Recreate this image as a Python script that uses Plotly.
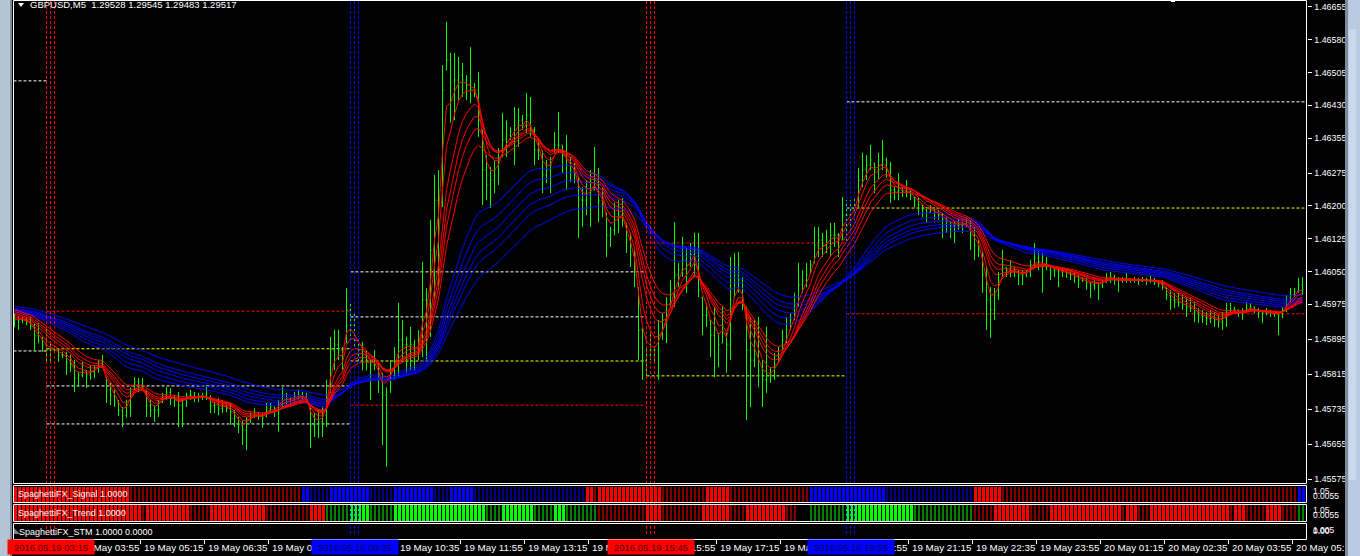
import plotly.graph_objects as go

W, H = 1360, 556

# ---------------- data ----------------
high = [1.45955, 1.45946, 1.45946, 1.45946, 1.45946, 1.45932, 1.45932, 1.45900, 1.45921, 1.45889,
 1.45877, 1.45875, 1.45866, 1.45866, 1.45859, 1.45847, 1.45820, 1.45843, 1.45824, 1.45836,
 1.45836, 1.45847, 1.45859, 1.45808, 1.45795, 1.45779, 1.45756, 1.45740, 1.45756, 1.45785,
 1.45808, 1.45806, 1.45806, 1.45779, 1.45756, 1.45744, 1.45756, 1.45772, 1.45785, 1.45783,
 1.45767, 1.45774, 1.45760, 1.45772, 1.45779, 1.45774, 1.45772, 1.45772, 1.45790, 1.45767,
 1.45751, 1.45760, 1.45756, 1.45751, 1.45749, 1.45733, 1.45717, 1.45710, 1.45717, 1.45728,
 1.45737, 1.45728, 1.45726, 1.45749, 1.45749, 1.45740, 1.45756, 1.45785, 1.45772, 1.45763,
 1.45774, 1.45779, 1.45774, 1.45772, 1.45740, 1.45726, 1.45733, 1.45740, 1.45802, 1.45900,
 1.45916, 1.45916, 1.45877, 1.46012, 1.45978, 1.45957, 1.45893, 1.45889, 1.45870, 1.45847,
 1.45870, 1.45841, 1.45818, 1.45785, 1.45847, 1.45877, 1.45978, 1.45939, 1.45900, 1.45923,
 1.45893, 1.45916, 1.46072, 1.46012, 1.46168, 1.46271, 1.46282, 1.46522, 1.46621, 1.46550,
 1.46550, 1.46541, 1.46527, 1.46499, 1.46563, 1.46481, 1.46506, 1.46374, 1.46316, 1.46289,
 1.46305, 1.46332, 1.46412, 1.46396, 1.46380, 1.46426, 1.46424, 1.46408, 1.46458, 1.46449,
 1.46380, 1.46351, 1.46328, 1.46305, 1.46312, 1.46369, 1.46415, 1.46339, 1.46362, 1.46312,
 1.46298, 1.46266, 1.46243, 1.46259, 1.46282, 1.46335, 1.46287, 1.46243, 1.46184, 1.46152,
 1.46207, 1.46213, 1.46218, 1.46161, 1.46138, 1.46099, 1.46014, 1.45923, 1.45877, 1.45909,
 1.45877, 1.45939, 1.45955, 1.45991, 1.46030, 1.46163, 1.46069, 1.46129, 1.46104, 1.46115,
 1.46138, 1.46138, 1.45991, 1.45978, 1.45939, 1.45969, 1.45909, 1.45969, 1.45909, 1.46083,
 1.46092, 1.46094, 1.46037, 1.45969, 1.45946, 1.45939, 1.45946, 1.45847, 1.45923, 1.45831,
 1.45863, 1.45877, 1.45916, 1.45946, 1.45955, 1.46001, 1.46069, 1.46053, 1.46069, 1.46076,
 1.46152, 1.46152, 1.46138, 1.46145, 1.46161, 1.46161, 1.46138, 1.46220, 1.46213, 1.46213,
 1.46220, 1.46287, 1.46321, 1.46316, 1.46339, 1.46298, 1.46321, 1.46351, 1.46310, 1.46300,
 1.46243, 1.46275, 1.46243, 1.46259, 1.46236, 1.46220, 1.46218, 1.46202, 1.46197, 1.46202,
 1.46197, 1.46191, 1.46184, 1.46174, 1.46163, 1.46163, 1.46168, 1.46172, 1.46174, 1.46168,
 1.46152, 1.46122, 1.46094, 1.46060, 1.46014, 1.46012, 1.46049, 1.46099, 1.46060, 1.46076,
 1.46060, 1.46053, 1.46053, 1.46053, 1.46076, 1.46115, 1.46099, 1.46092, 1.46083, 1.46060,
 1.46060, 1.46060, 1.46060, 1.46053, 1.46053, 1.46046, 1.46042, 1.46037, 1.46035, 1.46026,
 1.46030, 1.46024, 1.46030, 1.46046, 1.46049, 1.46042, 1.46037, 1.46037, 1.46046, 1.46035,
 1.46037, 1.46035, 1.46037, 1.46035, 1.46042, 1.46035, 1.46030, 1.46030, 1.46014, 1.46008,
 1.46001, 1.46001, 1.45996, 1.45991, 1.45989, 1.45980, 1.45966, 1.45962, 1.45957, 1.45962,
 1.45957, 1.45950, 1.45957, 1.45978, 1.45978, 1.45969, 1.45962, 1.45966, 1.45980, 1.45978,
 1.45969, 1.45966, 1.45962, 1.45966, 1.45962, 1.45957, 1.45957, 1.45969, 1.45996, 1.46012,
 1.46012, 1.46035, 1.46037]

low = [1.45923, 1.45916, 1.45932, 1.45927, 1.45916, 1.45868, 1.45886, 1.45866, 1.45843, 1.45843,
 1.45866, 1.45843, 1.45852, 1.45813, 1.45820, 1.45774, 1.45786, 1.45808, 1.45783, 1.45802,
 1.45806, 1.45818, 1.45829, 1.45749, 1.45744, 1.45740, 1.45719, 1.45694, 1.45715, 1.45717,
 1.45779, 1.45774, 1.45779, 1.45717, 1.45717, 1.45706, 1.45717, 1.45749, 1.45756, 1.45744,
 1.45740, 1.45694, 1.45694, 1.45740, 1.45756, 1.45751, 1.45751, 1.45756, 1.45756, 1.45726,
 1.45726, 1.45721, 1.45726, 1.45728, 1.45699, 1.45694, 1.45680, 1.45653, 1.45641, 1.45703,
 1.45715, 1.45710, 1.45692, 1.45717, 1.45726, 1.45717, 1.45683, 1.45740, 1.45740, 1.45740,
 1.45749, 1.45756, 1.45751, 1.45749, 1.45646, 1.45671, 1.45669, 1.45671, 1.45694, 1.45772,
 1.45824, 1.45847, 1.45824, 1.45886, 1.45893, 1.45877, 1.45841, 1.45824, 1.45824, 1.45756,
 1.45824, 1.45772, 1.45653, 1.45603, 1.45772, 1.45802, 1.45808, 1.45841, 1.45818, 1.45824,
 1.45824, 1.45847, 1.45854, 1.45847, 1.45900, 1.45985, 1.46008, 1.46197, 1.46511, 1.46390,
 1.46396, 1.46442, 1.46449, 1.46442, 1.46435, 1.46449, 1.46358, 1.46202, 1.46213, 1.46195,
 1.46229, 1.46248, 1.46312, 1.46312, 1.46351, 1.46293, 1.46335, 1.46374, 1.46367, 1.46358,
 1.46293, 1.46305, 1.46229, 1.46252, 1.46229, 1.46321, 1.46321, 1.46275, 1.46236, 1.46255,
 1.46252, 1.46127, 1.46152, 1.46179, 1.46152, 1.46236, 1.46163, 1.46174, 1.46083, 1.46106,
 1.46133, 1.46138, 1.46152, 1.46092, 1.46060, 1.46014, 1.45847, 1.45802, 1.45808, 1.45847,
 1.45841, 1.45802, 1.45893, 1.45886, 1.45969, 1.45969, 1.46014, 1.46037, 1.46001, 1.46060,
 1.46037, 1.45991, 1.45904, 1.45923, 1.45854, 1.45808, 1.45831, 1.45886, 1.45818, 1.45847,
 1.45991, 1.46001, 1.45962, 1.45710, 1.45740, 1.45831, 1.45785, 1.45740, 1.45772, 1.45795,
 1.45802, 1.45841, 1.45870, 1.45886, 1.45916, 1.45939, 1.45969, 1.46001, 1.46014, 1.46046,
 1.46069, 1.46083, 1.46083, 1.46092, 1.46083, 1.46106, 1.46083, 1.46122, 1.46115, 1.46145,
 1.46168, 1.46197, 1.46243, 1.46259, 1.46282, 1.46229, 1.46259, 1.46282, 1.46264, 1.46207,
 1.46213, 1.46213, 1.46220, 1.46220, 1.46213, 1.46197, 1.46179, 1.46174, 1.46161, 1.46184,
 1.46168, 1.46168, 1.46126, 1.46138, 1.46126, 1.46115, 1.46145, 1.46138, 1.46152, 1.46099,
 1.46076, 1.46083, 1.46001, 1.45916, 1.45898, 1.45939, 1.45985, 1.46037, 1.46037, 1.46037,
 1.46037, 1.46019, 1.46019, 1.46037, 1.46037, 1.46060, 1.46053, 1.46001, 1.46053, 1.46030,
 1.46037, 1.46014, 1.46037, 1.46035, 1.46030, 1.46024, 1.46012, 1.46026, 1.46008, 1.45989,
 1.46008, 1.45985, 1.46012, 1.46024, 1.46024, 1.46019, 1.46003, 1.46024, 1.46024, 1.46024,
 1.46024, 1.46019, 1.46026, 1.46019, 1.46024, 1.46019, 1.46014, 1.46008, 1.45985, 1.45962,
 1.45966, 1.45969, 1.45962, 1.45946, 1.45957, 1.45934, 1.45932, 1.45932, 1.45927, 1.45932,
 1.45923, 1.45921, 1.45916, 1.45923, 1.45955, 1.45955, 1.45946, 1.45939, 1.45955, 1.45962,
 1.45955, 1.45943, 1.45932, 1.45950, 1.45946, 1.45946, 1.45904, 1.45943, 1.45957, 1.45978,
 1.45991, 1.46001, 1.45996]

close = [1.45939, 1.45939, 1.45939, 1.45934, 1.45925, 1.45904, 1.45893, 1.45882, 1.45870, 1.45870,
 1.45870, 1.45859, 1.45859, 1.45843, 1.45836, 1.45806, 1.45813, 1.45820, 1.45813, 1.45820,
 1.45829, 1.45843, 1.45831, 1.45779, 1.45767, 1.45751, 1.45733, 1.45721, 1.45744, 1.45779,
 1.45797, 1.45790, 1.45783, 1.45744, 1.45733, 1.45733, 1.45751, 1.45765, 1.45772, 1.45760,
 1.45756, 1.45744, 1.45756, 1.45765, 1.45767, 1.45763, 1.45765, 1.45767, 1.45760, 1.45744,
 1.45744, 1.45737, 1.45742, 1.45737, 1.45728, 1.45715, 1.45699, 1.45687, 1.45710, 1.45721,
 1.45728, 1.45721, 1.45715, 1.45737, 1.45740, 1.45733, 1.45749, 1.45767, 1.45760, 1.45756,
 1.45765, 1.45767, 1.45763, 1.45756, 1.45699, 1.45699, 1.45706, 1.45721, 1.45767, 1.45870,
 1.45882, 1.45870, 1.45859, 1.45962, 1.45927, 1.45893, 1.45870, 1.45859, 1.45847, 1.45836,
 1.45836, 1.45802, 1.45767, 1.45802, 1.45824, 1.45859, 1.45893, 1.45882, 1.45882, 1.45882,
 1.45870, 1.45882, 1.45985, 1.45985, 1.46099, 1.46213, 1.46236, 1.46465, 1.46534, 1.46442,
 1.46488, 1.46499, 1.46488, 1.46477, 1.46465, 1.46465, 1.46396, 1.46282, 1.46248, 1.46259,
 1.46282, 1.46305, 1.46351, 1.46362, 1.46369, 1.46385, 1.46396, 1.46385, 1.46408, 1.46374,
 1.46328, 1.46316, 1.46271, 1.46282, 1.46293, 1.46339, 1.46339, 1.46316, 1.46293, 1.46282,
 1.46271, 1.46213, 1.46213, 1.46225, 1.46236, 1.46259, 1.46213, 1.46202, 1.46133, 1.46145,
 1.46168, 1.46179, 1.46179, 1.46122, 1.46088, 1.46042, 1.45916, 1.45847, 1.45859, 1.45870,
 1.45870, 1.45904, 1.45939, 1.45973, 1.45996, 1.46042, 1.46053, 1.46076, 1.46065, 1.46088,
 1.46099, 1.46008, 1.45950, 1.45950, 1.45904, 1.45916, 1.45882, 1.45927, 1.45882, 1.45985,
 1.46042, 1.46030, 1.45985, 1.45870, 1.45847, 1.45859, 1.45824, 1.45802, 1.45813, 1.45813,
 1.45836, 1.45859, 1.45893, 1.45916, 1.45939, 1.45973, 1.46019, 1.46030, 1.46042, 1.46065,
 1.46110, 1.46122, 1.46110, 1.46122, 1.46133, 1.46133, 1.46122, 1.46179, 1.46179, 1.46191,
 1.46202, 1.46259, 1.46282, 1.46293, 1.46305, 1.46282, 1.46293, 1.46305, 1.46282, 1.46236,
 1.46232, 1.46236, 1.46232, 1.46232, 1.46225, 1.46213, 1.46202, 1.46191, 1.46186, 1.46191,
 1.46184, 1.46179, 1.46168, 1.46163, 1.46156, 1.46156, 1.46156, 1.46156, 1.46156, 1.46133,
 1.46110, 1.46099, 1.46042, 1.45985, 1.45962, 1.45996, 1.46030, 1.46065, 1.46053, 1.46058,
 1.46053, 1.46042, 1.46042, 1.46049, 1.46065, 1.46081, 1.46072, 1.46065, 1.46065, 1.46053,
 1.46053, 1.46049, 1.46049, 1.46044, 1.46042, 1.46037, 1.46030, 1.46030, 1.46024, 1.46019,
 1.46024, 1.46019, 1.46026, 1.46035, 1.46037, 1.46030, 1.46030, 1.46030, 1.46033, 1.46030,
 1.46030, 1.46028, 1.46030, 1.46028, 1.46030, 1.46026, 1.46021, 1.46014, 1.45996, 1.45985,
 1.45980, 1.45978, 1.45973, 1.45966, 1.45966, 1.45957, 1.45950, 1.45946, 1.45943, 1.45943,
 1.45939, 1.45934, 1.45943, 1.45957, 1.45962, 1.45962, 1.45955, 1.45957, 1.45966, 1.45969,
 1.45962, 1.45957, 1.45955, 1.45957, 1.45955, 1.45953, 1.45950, 1.45962, 1.45985, 1.45996,
 1.46003, 1.46019, 1.46008]

first_open = 1.45947

red_periods = [3, 5, 8, 10, 12, 15]
red_seeds = [1.45943, 1.45948, 1.45953, 1.45957, 1.45962, 1.45966]
blue_periods = [30, 35, 40, 45, 50, 60]
blue_seeds = [1.45957, 1.45959, 1.45962, 1.45964, 1.45966, 1.45971]

price_ticks = [1.46655, 1.46580, 1.46505, 1.46430, 1.46355, 1.46275, 1.46200, 1.46125,
               1.46050, 1.45975, 1.45895, 1.45815, 1.45735, 1.45655, 1.45575]

time_labels = ["19 May 03:55", "19 May 05:15", "19 May 06:35", "19 May 07:55", "19 May 09:15",
               "19 May 10:35", "19 May 11:55", "19 May 13:15", "19 May 14:35", "19 May 15:55",
               "19 May 17:15", "19 May 18:35", "19 May 19:55", "19 May 21:15", "19 May 22:35",
               "19 May 23:55", "20 May 01:15", "20 May 02:35", "20 May 03:55", "20 May 05:15"]

session_bars = [9, 85, 159, 209]
session_labels = ["2016.05.19 03:15", "2016.05.19 09:35", "2016.05.19 15:45", "2016.05.19 19:55"]
session_kind = ["red", "blue", "red", "blue"]

level_start = [-0.25, -0.25, 8, 8, 8, 8, 84, 84, 84, 84, 158, 158, 208, 208, 208]
level_end = [8, 8, 84, 84, 84, 84, 158, 158, 158, 158, 208, 208, 323, 323, 323]
level_price = [1.46486, 1.45868, 1.45959, 1.45873, 1.45788, 1.45701, 1.46049, 1.45946,
               1.45845, 1.45744, 1.46115, 1.45811, 1.46438, 1.46195, 1.45953]
level_color = ["white", "white", "red", "yellow", "white", "white", "white", "white",
               "yellow", "red", "red", "yellow", "white", "yellow", "red"]

signal_runs = [("R", 29), ("r", 43), ("B", 2), ("b", 5), ("B", 10), ("b", 6), ("B", 10), ("b", 4),
               ("B", 6), ("b", 28), ("R", 2), ("r", 1), ("R", 16), ("r", 11), ("R", 6), ("r", 20),
               ("B", 19), ("b", 22), ("R", 7), ("r", 74), ("B", 2)]
trend_runs = [("R", 32), ("r", 1), ("R", 11), ("r", 5), ("R", 14), ("r", 11), ("R", 4), ("g", 6),
              ("G", 5), ("g", 6), ("G", 23), ("g", 4), ("G", 8), ("g", 5), ("G", 3), ("g", 8),
              ("r", 12), ("R", 4), ("r", 10), ("R", 7), ("r", 4), ("R", 10), ("r", 3), ("n", 3),
              ("g", 9), ("G", 17), ("g", 15), ("r", 5), ("R", 9), ("r", 5), ("R", 18), ("r", 1),
              ("R", 3), ("r", 3), ("R", 20), ("r", 1), ("R", 3), ("r", 5), ("R", 4), ("r", 4), ("g", 2)]

# ---------------- helpers ----------------
n = len(close)
idx = list(range(n))
open_ = [first_open] + close[:-1]
open_ = [min(max(o, l), h) for o, l, h in zip(open_, low, high)]


def ema(vals, period, seed):
    a = 2.0 / (period + 1)
    e = seed
    out = []
    for v in vals:
        e = e + a * (v - e)
        out.append(e)
    return out


def PX(p):
    return p / W


def PY(p):
    return 1 - p / H


PRICE_TOP = 1.46671      # price at pixel row 0
PX_PER_PRICE = 0.00002288
y_main = [PRICE_TOP - 483.5 * PX_PER_PRICE, PRICE_TOP - 0.5 * PX_PER_PRICE]
x_range = [(13.5 - 14.5) / 4, (1306.5 - 14.5) / 4]

FONT = "Liberation Sans, Arial, sans-serif"
COL = {"R": "#FF0000", "r": "#800000", "B": "#0000FF", "b": "#000080",
       "G": "#00FF00", "g": "#008000", "n": "rgba(0,0,0,0)"}
WID = {"R": 0.75, "B": 0.75, "G": 0.75, "r": 0.3, "b": 0.3, "g": 0.3, "n": 0.3}


def expand(runs):
    out = []
    for c, k in runs:
        out += [c] * k
    return out


sig = expand(signal_runs)
trd = expand(trend_runs)

fig = go.Figure()

for p, s in zip(blue_periods, blue_seeds):
    fig.add_trace(go.Scatter(x=idx, y=ema(close, p, s), mode="lines",
                             line=dict(color="#0000FF", width=1), hoverinfo="skip", yaxis="y"))
fig.add_trace(go.Ohlc(x=idx, open=open_, high=high, low=low, close=close,
                      increasing=dict(line=dict(color="#00FF00", width=1)),
                      decreasing=dict(line=dict(color="#00FF00", width=1)),
                      tickwidth=0.25, hoverinfo="skip", yaxis="y"))
for p, s in zip(red_periods, red_seeds):
    fig.add_trace(go.Scatter(x=idx, y=ema(close, p, s), mode="lines",
                             line=dict(color="#FF0000", width=1), hoverinfo="skip", yaxis="y"))

fig.add_trace(go.Bar(x=idx, y=[0 if c == "n" else 1 for c in sig], marker_color=[COL[c] for c in sig],
                     width=[WID[c] for c in sig], marker_line_width=0, yaxis="y2", hoverinfo="skip"))
fig.add_trace(go.Bar(x=idx, y=[0 if c == "n" else 1 for c in trd], marker_color=[COL[c] for c in trd],
                     width=[WID[c] for c in trd], marker_line_width=0, yaxis="y3", hoverinfo="skip"))
fig.add_trace(go.Scatter(x=[0], y=[-5], mode="markers", marker=dict(size=1, color="black"),
                         yaxis="y4", hoverinfo="skip"))

shapes = []
shapes.append(dict(type="rect", xref="paper", yref="paper", x0=PX(0), x1=PX(10), y0=0, y1=1,
                   fillcolor="#b4c4d6", line_width=0, layer="below"))
shapes.append(dict(type="rect", xref="paper", yref="paper", x0=PX(10), x1=PX(12), y0=0, y1=1,
                   fillcolor="#7d8b9a", line_width=0, layer="below"))
shapes.append(dict(type="rect", xref="paper", yref="paper", x0=PX(1171), x1=PX(1175), y0=PY(2), y1=1,
                   fillcolor="white", line_width=0, layer="below"))

for x0, x1, pr, c in zip(level_start, level_end, level_price, level_color):
    shapes.append(dict(type="line", xref="x", yref="y", x0=x0, x1=x1, y0=pr, y1=pr,
                       line=dict(color=c, width=1, dash="3px,2px"), layer="below"))

for b, k in zip(session_bars, session_kind):
    c = "#FF0000" if k == "red" else "#0000FF"
    for d in (-1, 0, 1):
        shapes.append(dict(type="line", xref="x", yref="paper", x0=b + d, x1=b + d,
                           y0=PY(534), y1=PY(0), line=dict(color=c, width=1, dash="3px,2px"),
                           layer="above"))

for top, bot in [(0.5, 483.5), (485.5, 502.5), (504.5, 521.5), (523.5, 539.5)]:
    shapes.append(dict(type="rect", xref="paper", yref="paper", x0=PX(13.5), x1=PX(1306.5),
                       y0=PY(bot), y1=PY(top), line=dict(color="white", width=1),
                       fillcolor="rgba(0,0,0,0)", layer="above"))

shapes.append(dict(type="path", xref="paper", yref="paper",
                   path=f"M {PX(18)},{PY(3)} L {PX(24)},{PY(3)} L {PX(21)},{PY(7)} Z",
                   fillcolor="white", line_width=0))
shapes.append(dict(type="path", xref="paper", yref="paper",
                   path=f"M {PX(14)},{PY(528)} L {PX(14)},{PY(534)} L {PX(20)},{PY(534)} Z",
                   fillcolor="#808080", line_width=0))

annotations = []


def txt(t, x, y, size=9.5, color="white", xref="paper", xanchor="left", **kw):
    d = dict(text=t, x=x, y=y, xref=xref, yref="paper", xanchor=xanchor, yanchor="middle",
             showarrow=False, font=dict(family=FONT, size=size, color=color))
    d.update(kw)
    annotations.append(d)


txt("GBPUSD,M5  1.29528 1.29545 1.29483 1.29517", PX(28), PY(5))
txt("SpaghettiFX_Signal 1.0000", PX(16), PY(494), size=9)
txt("SpaghettiFX_Trend 1.0000", PX(16), PY(513), size=9)
txt("SpaghettiFX_STM 1.0000 0.0000", PX(17), PY(532), size=9)
for y0 in (491, 510):
    txt("1.05", PX(1311), PY(y0), size=8.5)
    txt("0.0055", PX(1311), PY(y0 + 5), size=8.5)
txt("1.005", PX(1311), PY(530), size=8.5)
txt("0.00", PX(1311), PY(531), size=8.5)

tick_bars = [15.5 + 16 * k for k in range(len(time_labels))]
for tb, lab in zip(tick_bars, time_labels):
    txt(lab, tb, PY(547), xref="x", xshift=1, size=9.8)
for b, lab, k in zip(session_bars, session_labels, session_kind):
    bg = "#FF0000" if k == "red" else "#0000FF"
    fc = "#4a0000" if k == "red" else "#00004a"
    txt(lab, b, PY(547), xref="x", xanchor="center", bgcolor=bg, color=fc, width=84, height=12)

# right-hand window frame, drawn last so it sits over the clipped last time label
annotations.append(dict(text=" ", x=PX(1345), y=0, xref="paper", yref="paper", xanchor="left",
                        yanchor="bottom", showarrow=False, bgcolor="#7d8b9a", width=3, height=H,
                        borderpad=0, borderwidth=0))
annotations.append(dict(text=" ", x=PX(1348), y=0, xref="paper", yref="paper", xanchor="left",
                        yanchor="bottom", showarrow=False, bgcolor="#b9cbe0", width=12, height=H,
                        borderpad=0, borderwidth=0))
annotations.append(dict(text=" ", x=PX(1349), y=PY(480), xref="paper", yref="paper", xanchor="left",
                        yanchor="bottom", showarrow=False, bgcolor="#c9d8ea", width=7, height=451,
                        borderpad=0, borderwidth=0))

fig.update_layout(
    width=W, height=H, margin=dict(l=0, r=0, t=0, b=0, autoexpand=False),
    paper_bgcolor="black", plot_bgcolor="black", showlegend=False, hovermode=False,
    shapes=shapes, annotations=annotations, bargap=0,
    xaxis=dict(domain=[PX(13.5), PX(1306.5)], range=x_range, anchor="y4", showgrid=False,
               zeroline=False, showline=False, showticklabels=False, ticks="outside", ticklen=4,
               tickcolor="white", tickvals=tick_bars, rangeslider=dict(visible=False),
               automargin=False),
    yaxis=dict(domain=[PY(483.5), PY(0.5)], range=y_main, side="right", anchor="x",
               showgrid=False, zeroline=False, showline=False, ticks="outside", ticklen=4,
               tickcolor="white", tickvals=price_ticks, ticktext=[f"{v:.5f}" for v in price_ticks],
               tickfont=dict(family=FONT, size=8.9, color="white"), ticklabelstandoff=1,
               automargin=False),
    yaxis2=dict(domain=[PY(502), PY(486.5)], range=[0, 1], anchor="x", showgrid=False,
                zeroline=False, showticklabels=False, ticks="", automargin=False),
    yaxis3=dict(domain=[PY(521), PY(505)], range=[0, 1], anchor="x", showgrid=False,
                zeroline=False, showticklabels=False, ticks="", automargin=False),
    yaxis4=dict(domain=[PY(539), PY(524)], range=[0, 1], anchor="x", showgrid=False,
                zeroline=False, showticklabels=False, ticks="", automargin=False),
)

fig.write_html("out.html", config={"displayModeBar": False},
               post_script="document.body.style.margin='0px';document.body.style.overflow='hidden';")
